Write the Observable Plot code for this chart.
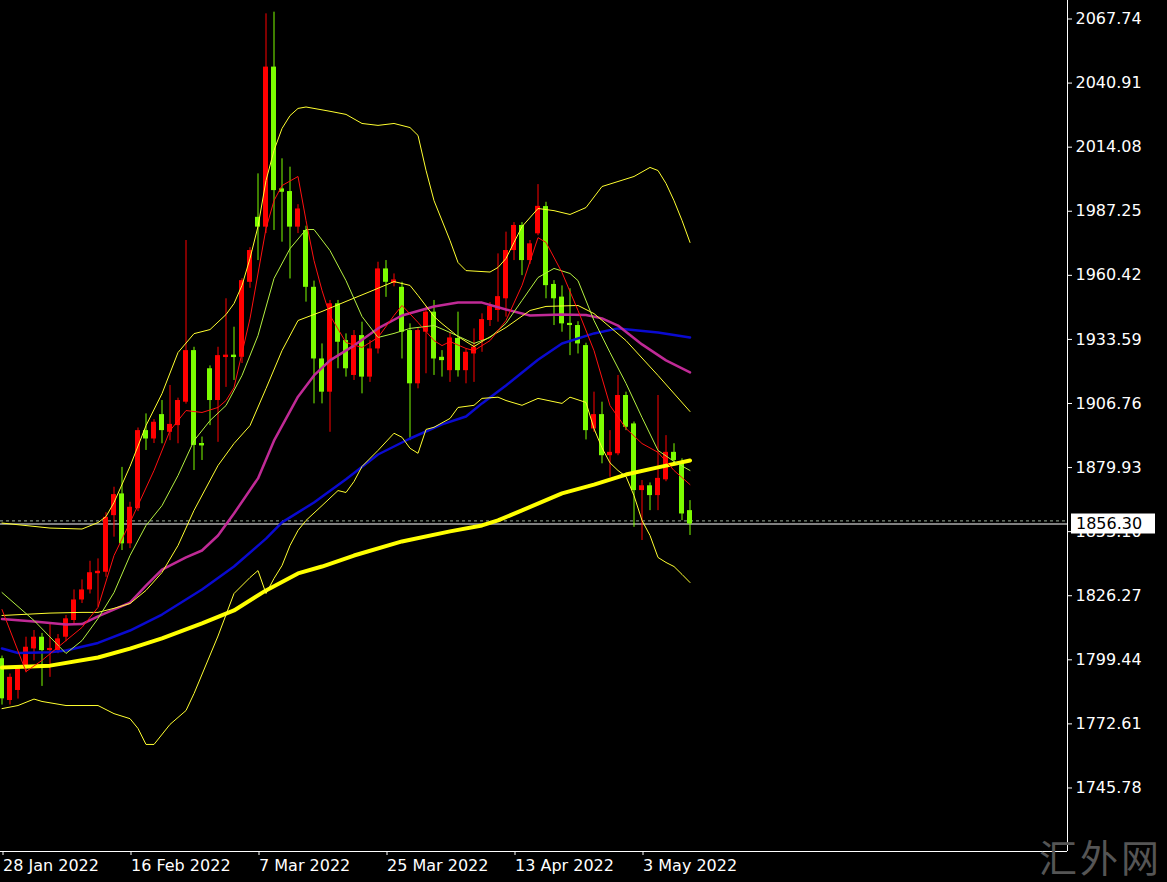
<!DOCTYPE html>
<html><head><meta charset="utf-8">
<script src="https://cdn.jsdelivr.net/npm/d3@7"></script>
<script src="https://cdn.jsdelivr.net/npm/@observablehq/plot@0.6"></script>
<style>html,body{margin:0;padding:0;background:#000;overflow:hidden}</style>
</head><body><div id="chart"></div>
<script>
// ---- Daily candles (bar index 0 = 28 Jan 2022) ----
const opens  = [1799.9,1782.4,1786.6,1797.0,1804.0,1808.9,1803.3,1803.3,1808.9,1815.9,1824.5,1828.7,1835.5,1836.1,1859.8,1868.9,1848.0,1862.7,1895.4,1891.9,1902.1,1894.7,1897.5,1907.3,1928.9,1890.0,1921.3,1908.0,1926.0,1927.0,1926.1,1957.5,1984.7,1980.6,2047.6,1996.6,1995.5,1980.6,1979.2,1955.4,1925.4,1911.5,1948.5,1933.1,1918.5,1935.2,1917.8,1929.6,1963.1,1957.0,1955.4,1937.3,1915.0,1936.6,1945.0,1926.1,1920.5,1934.0,1920.5,1927.5,1933.1,1941.5,1945.7,1950.6,1970.8,1981.3,1966.6,1977.8,1989.2,1956.6,1951.3,1940.3,1939.4,1931.0,1896.1,1902.1,1884.9,1885.7,1910.1,1898.2,1870.3,1872.3,1868.2,1874.8,1886.3,1882.2,1861.9];
const highs  = [1801.0,1793.5,1797.0,1808.9,1811.7,1810.5,1814.5,1810.0,1818.0,1828.7,1832.9,1840.7,1841.7,1861.0,1871.7,1880.0,1865.4,1896.5,1902.4,1900.0,1908.0,1914.3,1909.0,1975.0,1930.3,1892.7,1922.5,1930.3,1950.6,1938.7,1959.0,1972.0,2002.9,2069.9,2070.6,2009.2,2005.7,1990.0,1981.0,1958.0,1931.7,1949.9,1949.9,1935.9,1937.3,1940.8,1933.1,1965.9,1966.6,1961.0,1957.5,1940.1,1938.5,1947.1,1949.9,1928.9,1936.5,1945.0,1929.5,1938.0,1944.3,1949.0,1969.4,1978.5,1982.5,1982.5,1975.0,1998.4,1991.0,1958.2,1956.0,1954.8,1941.0,1932.0,1911.5,1907.3,1895.4,1918.5,1911.5,1899.0,1874.5,1873.5,1910.1,1893.3,1889.9,1883.6,1866.1];
const lows   = [1780.5,1780.5,1783.0,1794.0,1799.0,1788.3,1792.1,1802.0,1807.0,1814.0,1823.0,1827.0,1821.5,1834.0,1850.8,1845.2,1846.0,1861.5,1887.1,1890.0,1889.9,1891.2,1889.9,1906.5,1878.7,1882.9,1897.5,1890.5,1913.5,1916.4,1923.5,1955.0,1966.6,1977.9,1979.2,1974.3,1958.9,1977.9,1949.2,1906.6,1906.6,1894.7,1921.3,1917.8,1916.4,1910.8,1915.6,1927.5,1951.2,1955.6,1925.4,1891.2,1912.9,1919.2,1918.5,1917.8,1915.6,1917.8,1915.0,1915.6,1928.2,1939.0,1940.8,1942.9,1966.6,1960.3,1965.0,1977.0,1950.6,1939.4,1936.6,1926.8,1927.5,1891.5,1894.7,1881.5,1875.9,1884.9,1895.4,1854.9,1849.4,1861.9,1861.9,1874.0,1881.5,1857.7,1851.5];
const closes = [1783.1,1792.1,1795.8,1804.7,1808.9,1803.3,1804.2,1808.2,1816.6,1824.5,1828.7,1835.9,1836.5,1859.1,1868.6,1848.0,1863.3,1895.4,1891.9,1898.9,1895.4,1898.0,1908.0,1928.9,1889.2,1889.0,1908.0,1926.8,1927.0,1926.0,1958.2,1970.8,1980.6,2047.6,1995.9,1995.2,1980.6,1988.2,1955.4,1925.4,1911.5,1948.5,1932.4,1921.3,1935.2,1917.8,1929.6,1963.1,1957.5,1958.5,1936.6,1915.0,1937.3,1945.0,1925.4,1924.7,1934.2,1920.5,1928.2,1930.3,1941.9,1947.4,1951.5,1970.8,1981.3,1966.6,1973.6,1989.3,1956.1,1950.6,1940.1,1939.4,1931.7,1895.4,1902.1,1884.9,1886.3,1910.1,1896.8,1870.3,1872.3,1868.2,1875.4,1886.3,1882.9,1860.5,1856.3];

// ---- Indicator lines as [bar index, price] ----
const maRed = [[0,1820.5],[3,1794.5],[5,1799.2],[8,1807.5],[10,1813.0],[12,1821.4],[14,1843.1],[16,1856.9],[19,1878.7],[21,1895.4],[23,1903.8],[25,1903.0],[27,1905.1],[28,1908.0],[29,1913.4],[31,1942.3],[33,1980.0],[34,1991.7],[35,1998.0],[37,2001.8],[38,1983.4],[39,1966.6],[40,1954.1],[41,1943.6],[43,1932.3],[45,1930.2],[47,1934.4],[49,1943.6],[50,1947.8],[52,1940.7],[54,1933.1],[55,1931.0],[56,1932.7],[58,1929.8],[59,1928.9],[61,1933.1],[63,1941.5],[65,1956.2],[67,1976.2],[68,1974.2],[70,1961.6],[72,1945.7],[74,1928.9],[76,1905.9],[78,1896.3],[80,1890.0],[82,1886.3],[84,1878.7],[86,1872.8]];
const maGreen = [[0,1827.6],[4,1815.9],[8,1802.1],[10,1807.5],[12,1816.7],[14,1827.6],[16,1843.1],[18,1855.7],[20,1864.0],[22,1876.6],[24,1891.2],[26,1899.6],[28,1905.9],[30,1918.5],[32,1935.2],[34,1959.1],[36,1971.6],[38,1979.6],[39,1979.6],[41,1970.8],[43,1958.2],[45,1943.2],[47,1934.4],[49,1936.1],[51,1938.2],[54,1939.4],[56,1936.5],[59,1931.9],[61,1934.4],[63,1940.3],[65,1949.9],[67,1959.5],[69,1963.3],[71,1961.2],[72,1958.2],[74,1941.5],[76,1928.1],[78,1915.2],[80,1900.9],[82,1887.1],[84,1882.5],[86,1878.7]];
const bbUpper = [[0,1856.7],[6,1854.6],[10,1854.2],[12,1856.9],[13,1859.4],[14,1865.3],[16,1880.4],[18,1897.5],[20,1910.9],[22,1928.1],[24,1936.0],[26,1937.7],[28,1944.0],[29,1948.6],[30,1956.2],[31,1967.5],[32,1980.9],[33,2000.1],[34,2012.7],[35,2021.9],[36,2027.3],[37,2030.3],[38,2030.9],[41,2029.1],[43,2027.8],[45,2024.0],[47,2023.2],[49,2024.0],[51,2022.3],[52,2019.0],[53,2004.4],[54,1991.7],[56,1975.0],[57,1965.8],[58,1962.4],[61,1961.8],[62,1963.7],[63,1967.5],[64,1974.2],[65,1980.8],[67,1988.4],[69,1987.5],[71,1985.9],[73,1988.8],[75,1997.6],[77,1999.7],[79,2001.8],[81,2005.6],[82,2004.3],[83,1998.9],[84,1991.7],[85,1983.4],[86,1974.2]];
const bbMiddle = [[0,1818.0],[6,1819.0],[10,1819.3],[12,1819.3],[14,1821.0],[16,1823.0],[18,1828.5],[20,1836.0],[22,1847.3],[24,1862.0],[27,1880.8],[29,1890.0],[31,1897.5],[33,1913.0],[35,1928.9],[37,1941.5],[40,1945.3],[43,1949.5],[46,1953.6],[49,1957.8],[51,1956.2],[52,1952.0],[54,1943.2],[55,1940.2],[57,1934.8],[59,1930.6],[60,1932.7],[63,1938.6],[66,1945.7],[68,1947.4],[72,1947.8],[74,1944.4],[78,1933.1],[82,1918.5],[86,1903.4]];
const bbLower = [[0,1779.0],[2,1780.3],[4,1783.0],[5,1782.0],[8,1780.3],[12,1780.3],[14,1776.9],[16,1774.8],[17,1770.7],[18,1764.0],[19,1764.0],[21,1772.4],[23,1778.2],[24,1785.3],[27,1809.4],[29,1827.2],[31,1833.9],[32,1836.8],[33,1827.2],[34,1833.5],[35,1838.9],[36,1847.3],[37,1853.6],[38,1857.8],[40,1864.0],[42,1870.3],[43,1869.5],[44,1874.1],[45,1880.4],[47,1887.1],[49,1894.3],[50,1892.6],[51,1888.0],[52,1885.9],[53,1895.9],[54,1896.8],[56,1900.5],[57,1905.1],[59,1906.0],[60,1908.9],[62,1909.4],[63,1908.0],[65,1906.0],[67,1908.9],[70,1906.8],[71,1909.4],[73,1907.2],[74,1896.2],[75,1888.2],[76,1881.9],[77,1878.7],[78,1876.2],[79,1868.2],[80,1857.8],[81,1851.5],[82,1842.3],[83,1840.2],[84,1838.5],[85,1835.2],[86,1831.8]];
const maMagenta = [[0,1816.5],[4,1815.5],[8,1814.2],[10,1814.4],[12,1817.6],[16,1823.4],[18,1830.5],[20,1837.2],[23,1842.3],[25,1845.2],[27,1851.5],[29,1860.7],[32,1875.4],[34,1891.2],[37,1909.6],[39,1918.5],[41,1924.8],[44,1931.0],[47,1938.2],[50,1943.6],[54,1947.4],[57,1949.0],[60,1949.0],[63,1946.1],[66,1943.6],[70,1944.0],[73,1943.8],[75,1942.4],[77,1939.4],[80,1931.5],[83,1924.8],[86,1919.8]];
const maBlue = [[0,1804.2],[2,1802.3],[6,1802.6],[8,1803.3],[12,1806.5],[16,1811.7],[20,1818.4],[25,1828.9],[29,1838.5],[33,1850.2],[35,1857.0],[39,1865.3],[43,1875.0],[47,1885.4],[51,1892.1],[55,1898.0],[58,1901.3],[60,1906.8],[63,1914.3],[67,1925.1],[70,1931.9],[74,1936.1],[77,1938.2],[82,1936.5],[86,1934.4]];
const maYellow = [[0,1796.2],[6,1797.0],[12,1800.4],[16,1804.1],[20,1808.4],[25,1814.7],[29,1820.1],[33,1828.5],[37,1835.6],[40,1838.5],[44,1843.1],[50,1849.0],[56,1853.2],[60,1855.7],[62,1857.8],[65,1862.0],[70,1869.1],[74,1872.8],[78,1877.0],[82,1880.0],[86,1882.9]];

// ---- Axis ticks and labels ----
const yTicks = [2067.74,2040.91,2014.08,1987.25,1960.42,1933.59,1906.76,1879.93,1853.10,1826.27,1799.44,1772.61,1745.78];
const xTickIdx = [0,16,32,48,64,80];
const xTickLabels = ["28 Jan 2022","16 Feb 2022","7 Mar 2022","25 Mar 2022","13 Apr 2022","3 May 2022"];
const bidPrice = 1856.30;
const askPrice = 1857.60;
const watermark = "汇外网";

const candles = opens.map((o, i) => ({i, open: o, high: highs[i], low: lows[i], close: closes[i], up: closes[i] >= o}));
const UP = "#ff0000", DOWN = "#7cfc00";
const xDomain = [-0.1875, 133.1875];
const yDomain = [1719.18, 2075.49];

const plot = Plot.plot({
  width: 1167, height: 882,
  marginLeft: 0, marginTop: 0, marginRight: 100, marginBottom: 31,
  style: {background: "#000", color: "#fff", fontFamily: "DejaVu Sans", fontSize: "16px", overflow: "visible"},
  x: {type: "linear", domain: xDomain},
  y: {type: "linear", domain: yDomain},
  marks: [
    Plot.axisY({anchor: "right", label: null, ticks: yTicks, tickFormat: d => d.toFixed(2), tickSize: 4, tickPadding: 4, fontSize: 16, stroke: "#fff", fill: "#fff"}),
    Plot.axisX({anchor: "bottom", label: null, ticks: xTickIdx, tickFormat: d => xTickLabels[xTickIdx.indexOf(d)], tickSize: 4, tickPadding: 4, textAnchor: "start", dx: 1, fontSize: 16, stroke: "#fff", fill: "#fff"}),
    Plot.ruleX([xDomain[1]], {stroke: "#fff"}),
    Plot.ruleY([yDomain[0]], {stroke: "#fff"}),
    Plot.ruleY([askPrice], {stroke: "#9db09d", strokeDasharray: "3,3"}),
    Plot.ruleY([bidPrice], {stroke: "#fff"}),
    Plot.ruleX(candles, {x: "i", y1: "low", y2: "high", stroke: d => d.up ? UP : DOWN, strokeWidth: 1}),
    Plot.rect(candles, {x1: d => d.i - 0.3125, x2: d => d.i + 0.3125, y1: "open", y2: "close", fill: d => d.up ? UP : DOWN}),
    Plot.line(maYellow, {x: d => d[0], y: d => d[1], stroke: "#ffff00", strokeWidth: 4}),
    Plot.line(maBlue, {x: d => d[0], y: d => d[1], stroke: "#0a0ad0", strokeWidth: 2.5}),
    Plot.line(maMagenta, {x: d => d[0], y: d => d[1], stroke: "#c02a96", strokeWidth: 2.5}),
    Plot.line(bbUpper, {x: d => d[0], y: d => d[1], stroke: "#ffff30", strokeWidth: 1}),
    Plot.line(bbMiddle, {x: d => d[0], y: d => d[1], stroke: "#ffff30", strokeWidth: 1}),
    Plot.line(bbLower, {x: d => d[0], y: d => d[1], stroke: "#ffff30", strokeWidth: 1}),
    Plot.line(maGreen, {x: d => d[0], y: d => d[1], stroke: "#b4f040", strokeWidth: 1}),
    Plot.line(maRed, {x: d => d[0], y: d => d[1], stroke: "#ff1010", strokeWidth: 1})
  ]
});

// current price label box on the right axis
const ys = plot.scale("y");
const svg = d3.select(plot);
const py = ys.apply(bidPrice);
const g = svg.append("g");
g.append("rect").attr("x", 1071).attr("y", py - 10).attr("width", 84).attr("height", 20).attr("fill", "#fff");
g.append("text").attr("x", 1076).attr("y", py).attr("dy", "0.35em").attr("fill", "#000")
  .attr("text-anchor", "start")
  .attr("font-family", "DejaVu Sans").attr("font-size", 16).text(bidPrice.toFixed(2));
// watermark
svg.append("text").attr("x", 1162).attr("y", 872).attr("text-anchor", "end")
  .attr("font-family", "Noto Sans CJK SC").attr("font-size", 38).attr("fill", "#555")
  .attr("letter-spacing", 3).text(watermark);

document.getElementById("chart").appendChild(plot);
</script>
</body></html>
